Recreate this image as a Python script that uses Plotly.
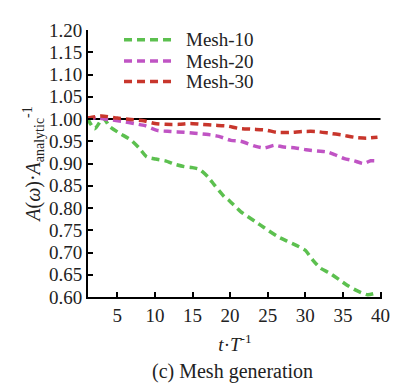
import plotly.graph_objects as go

# ---- data ----
t_mesh10 = [1.0, 2.0, 3.1, 4.0, 5.3, 6.8, 7.9, 8.9, 10.1, 11.4, 12.7, 13.9, 14.9, 15.9,
            17.1, 17.9, 19.2, 19.8, 21.4, 23.3, 24.6, 26.2, 27.5, 28.8, 30.0, 31.0,
            32.0, 33.2, 34.5, 35.8, 37.0, 38.3, 39.6]
a_mesh10 = [1.002, 0.978, 1.002, 0.983, 0.968, 0.953, 0.935, 0.915, 0.910, 0.906, 0.898,
            0.893, 0.891, 0.887, 0.869, 0.852, 0.826, 0.818, 0.792, 0.770, 0.755, 0.737,
            0.726, 0.716, 0.705, 0.683, 0.665, 0.654, 0.639, 0.624, 0.613, 0.605, 0.610]

t_mesh20 = [1.0, 2.4, 4.2, 5.9, 7.5, 8.7, 10.4, 12.1, 13.9, 15.3, 17.1, 18.5, 20.1, 21.4,
            23.3, 24.6, 25.9, 27.1, 28.7, 30.1, 31.6, 32.9, 33.9, 35.2, 36.5, 37.7,
            38.7, 39.6]
a_mesh20 = [1.003, 1.002, 0.998, 0.994, 0.989, 0.985, 0.974, 0.972, 0.970, 0.968, 0.965,
            0.961, 0.952, 0.950, 0.939, 0.935, 0.941, 0.937, 0.935, 0.931, 0.928, 0.926,
            0.920, 0.911, 0.906, 0.900, 0.906, 0.906]

t_mesh30 = [1.0, 2.9, 5.0, 6.8, 8.5, 10.0, 11.4, 13.2, 14.7, 16.2, 17.9, 19.7, 21.1, 23.0,
            24.8, 26.2, 28.0, 29.7, 31.4, 33.2, 34.9, 36.5, 38.1, 39.6]
a_mesh30 = [1.002, 1.007, 1.002, 0.999, 0.996, 0.990, 0.988, 0.988, 0.990, 0.988, 0.986,
            0.984, 0.979, 0.977, 0.975, 0.970, 0.970, 0.972, 0.972, 0.968, 0.964, 0.959,
            0.957, 0.959]

ref_t = [1.0, 40.0]
ref_a = [1.0, 1.0]

x_ticks = [5, 10, 15, 20, 25, 30, 35, 40]
y_ticks = [0.60, 0.65, 0.70, 0.75, 0.80, 0.85, 0.90, 0.95, 1.00, 1.05, 1.10, 1.15, 1.20]

series_names = ["Mesh-10", "Mesh-20", "Mesh-30"]
series_x = [t_mesh10, t_mesh20, t_mesh30]
series_y = [a_mesh10, a_mesh20, a_mesh30]
series_colors = ["#5cc04f", "#c054c4", "#c8362c"]

FONT = "Liberation Serif"
TXT = "#222"
DASH = "8px,5px"

fig = go.Figure()
fig.add_trace(go.Scatter(x=ref_t, y=ref_a, mode="lines", showlegend=False,
                         line=dict(color="black", width=2)))
for name, xs, ys, col in zip(series_names, series_x, series_y, series_colors):
    fig.add_trace(go.Scatter(x=xs, y=ys, mode="lines", name=name, showlegend=False,
                             line=dict(color=col, width=3.5, dash=DASH, shape="spline",
                                       smoothing=0.6)))

axis_common = dict(
    showline=True, linecolor="black", linewidth=2,
    ticks="inside", ticklen=5, tickwidth=2, tickcolor="black",
    showgrid=False, zeroline=False, mirror=False,
    tickfont=dict(family=FONT, size=19, color=TXT),
)

fig.update_xaxes(range=[1.1, 40.2], tickvals=x_ticks, **axis_common,
                 title=dict(text="<i>t</i>·<i>T</i><sup>-1</sup>",
                            font=dict(family=FONT, size=19, color=TXT), standoff=13))
fig.update_yaxes(range=[0.6, 1.2], tickvals=y_ticks, tickformat=".2f", **axis_common,
                 title=dict(text="<i>A</i>(<i>ω</i>)·<i>A</i><sub>analytic</sub><sup>-1</sup>",
                            font=dict(family=FONT, size=20, color=TXT), standoff=3))

# manual legend (compact rows like the reference)
leg_x0, leg_x1, leg_tx = 0.1225, 0.298, 0.325
leg_rows = [0.9636, 0.8836, 0.8073]
shapes = []
annotations = []
for name, col, ry in zip(series_names, series_colors, leg_rows):
    shapes.append(dict(type="line", xref="paper", yref="paper", x0=leg_x0, x1=leg_x1,
                       y0=ry, y1=ry, line=dict(color=col, width=3.5, dash=DASH)))
    annotations.append(dict(text=name, xref="paper", yref="paper", x=leg_tx, y=ry,
                            xanchor="left", yanchor="middle", showarrow=False,
                            font=dict(family=FONT, size=19, color=TXT)))

annotations.append(dict(text="(c) Mesh generation", xref="paper", yref="paper",
                        x=0.49, y=-0.28, xanchor="center", yanchor="middle", showarrow=False,
                        font=dict(family=FONT, size=20, color=TXT)))

fig.update_layout(
    width=394, height=375,
    margin=dict(l=80, r=12, t=14, b=86),
    paper_bgcolor="white", plot_bgcolor="white",
    font=dict(family=FONT, size=18, color=TXT),
    showlegend=False,
    shapes=shapes,
    annotations=annotations,
)

fig.write_html("out.html")
